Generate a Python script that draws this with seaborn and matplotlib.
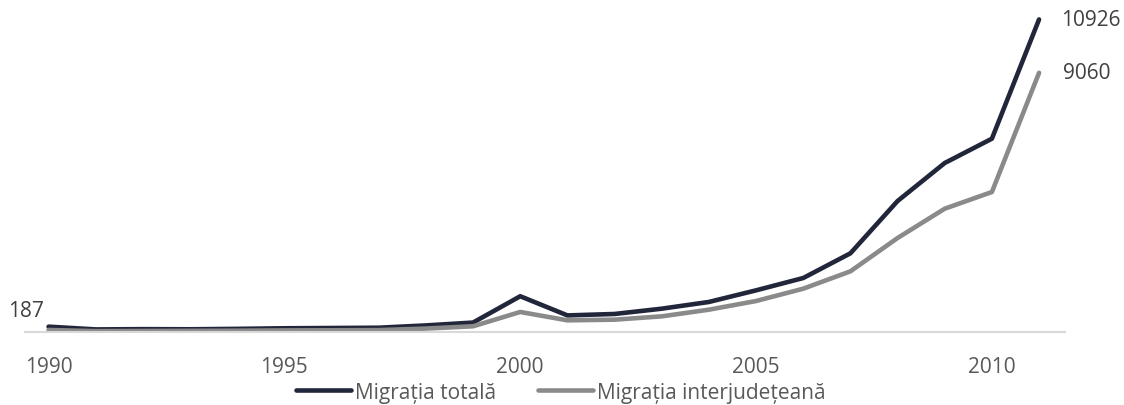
import numpy as np
import pandas as pd
import matplotlib
matplotlib.use("Agg")
import matplotlib.pyplot as plt
import seaborn as sns

# date
years = list(range(1990, 2012))
migratia_totala = [187, 90, 100, 95, 110, 130, 140, 150, 230, 330,
                   1250, 580, 630, 815, 1050, 1456, 1887, 2750,
                   4578, 5907, 6757, 10926]
migratia_interjudeteana = [70, 30, 35, 40, 45, 55, 60, 65, 120, 200,
                           700, 408, 431, 547, 780, 1083, 1514, 2120,
                           3285, 4310, 4893, 9060]
series_names = ["Migrația totală", "Migrația interjudețeană"]
tick_years = [1990, 1995, 2000, 2005, 2010]

colors = ["#22263a", "#8a8a8a"]
text_color = "#595959"
fs = 15


def build_frame():
    df = pd.DataFrame({
        "an": years * 2,
        "valoare": migratia_totala + migratia_interjudeteana,
        "serie": [series_names[0]] * len(years) + [series_names[1]] * len(years),
    })
    return df


def plot_chart(df):
    sns.set_style("white")
    plt.rcParams["font.family"] = ["Open Sans", "DejaVu Sans"]

    fig = plt.figure(figsize=(11.24, 4.06), dpi=100)
    ax = fig.add_axes([25 / 1124, 73 / 406, 1040 / 1124, 329 / 406])

    sns.lineplot(data=df, x="an", y="valoare", hue="serie", palette=colors,
                 linewidth=3.3, ax=ax, legend=False)

    ax.set_xlim(1989.5, 2011.55)
    ax.set_ylim(0, 11500)
    ax.set_xticks(tick_years)
    ax.set_xticklabels([str(y) for y in tick_years])
    ax.set_yticks([])
    ax.set_xlabel("")
    ax.set_ylabel("")
    ax.tick_params(axis="x", length=0, pad=17, labelsize=fs, labelcolor=text_color)

    for s in ["top", "right", "left"]:
        ax.spines[s].set_visible(False)
    ax.spines["bottom"].set_color("#d9d9d9")
    ax.spines["bottom"].set_linewidth(1.5)

    # etichete valori
    ax.annotate(str(migratia_totala[0]), (years[0], migratia_totala[0]),
                xytext=(-3, 4), textcoords="offset points", ha="right", va="bottom",
                fontsize=fs, color="#404040")
    ax.annotate(str(migratia_totala[-1]), (years[-1], migratia_totala[-1]),
                xytext=(16, 0), textcoords="offset points", ha="left", va="center",
                fontsize=fs, color="#404040")
    ax.annotate(str(migratia_interjudeteana[-1]), (years[-1], migratia_interjudeteana[-1]),
                xytext=(17, 0), textcoords="offset points", ha="left", va="center",
                fontsize=fs, color="#404040")

    handles = [plt.Line2D([], [], color=c, linewidth=3.3) for c in colors]
    leg = fig.legend(handles, series_names, loc="center", bbox_to_anchor=(0.4987, 0.032),
                     ncol=2, frameon=False, fontsize=fs, handlelength=2.64,
                     handletextpad=0.2, columnspacing=2.0)
    for t in leg.get_texts():
        t.set_color(text_color)

    fig.savefig("out.png", dpi=100)


def main():
    df = build_frame()
    plot_chart(df)


main()
